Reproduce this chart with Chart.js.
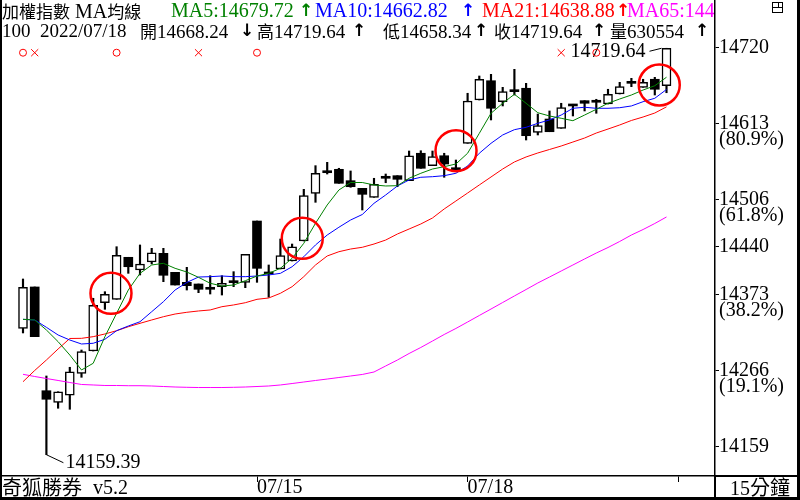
<!DOCTYPE html>
<html lang="zh-Hant">
  <head>
    <meta charset="utf-8" />
    <title>加權指數 MA均線</title>
    <style>
      * {
        margin: 0;
        padding: 0;
      }
      body {
        background: #fff;
      }
      .chartBox {
        position: relative;
        width: 800px;
        height: 500px;
        overflow: hidden;
        background: #fff;
        font-family: "Liberation Serif", "Noto Sans CJK TC", serif;
        color: #000;
      }
      .chartBox canvas {
        position: absolute;
        left: 0;
        top: 0;
      }
      .header {
        position: absolute;
        left: 0;
        top: 0;
        width: 714px;
        height: 44px;
        overflow: hidden;
      }
      .t {
        position: absolute;
        white-space: nowrap;
        font-size: 19px;
        line-height: 19px;
      }
      .r1 { top: 1px; font-size: 20px; }
      .r2 { top: 21px; }
      .k {
        font-family: "Noto Sans CJK TC", sans-serif;
        font-size: 17px;
      }
      .a {
        font-family: "DejaVu Sans", sans-serif;
        font-weight: bold;
        font-size: 17px;
      }
      .g { color: #008000; }
      .b { color: #0000ff; }
      .rd { color: #ff0000; }
      .m { color: #ff00ff; }
      .foot { top: 477px; font-size: 20px; line-height: 20px; }
      .foot .k { font-size: 20px; }
      .line {
        position: absolute;
        background: #000;
      }
      .icon {
        position: absolute;
        left: 772px;
        top: 2px;
        width: 9px;
        height: 9px;
        border: 1px solid #000;
      }
    </style>
  </head>
  <body>
    <div class="chartBox">
      <canvas id="myChart" width="800" height="500"></canvas>

      <div class="header">
        <span class="t r1" style="left: 2px"><span class="k">加權指數</span></span>
        <span class="t r1" style="left: 75px">MA<span class="k">均線</span></span>
        <span class="t r1 g" style="left: 171px">MA5:14679.72</span>
        <span class="t r1 g a" style="left: 299px">↑</span>
        <span class="t r1 b" style="left: 315px">MA10:14662.82</span>
        <span class="t r1 b a" style="left: 461px">↑</span>
        <span class="t r1 rd" style="left: 482px">MA21:14638.88</span>
        <span class="t r1 rd a" style="left: 616px">↑</span>
        <span class="t r1 m" style="left: 627px">MA65:144</span>

        <span class="t r2" style="left: 2px">100</span>
        <span class="t r2" style="left: 40px">2022/07/18</span>
        <span class="t r2" style="left: 140px"><span class="k">開</span>14668.24</span>
        <span class="t r2 a" style="left: 240px">↓</span>
        <span class="t r2" style="left: 257px"><span class="k">高</span>14719.64</span>
        <span class="t r2 a" style="left: 352px">↑</span>
        <span class="t r2" style="left: 383px"><span class="k">低</span>14658.34</span>
        <span class="t r2 a" style="left: 474px">↑</span>
        <span class="t r2" style="left: 494px"><span class="k">收</span>14719.64</span>
        <span class="t r2 a" style="left: 592px">↑</span>
        <span class="t r2" style="left: 610px"><span class="k">量</span>630554</span>
        <span class="t r2 a" style="left: 695px">↑</span>
      </div>

      <span class="t foot" style="left: 2px"><span class="k">奇狐勝券</span></span>
      <span class="t foot" style="left: 93px">v5.2</span>
      <span class="t foot" style="left: 730px">15<span class="k">分鐘</span></span>

      <!-- frame -->
      <div class="line" style="left: 0; top: 0; width: 2px; height: 500px"></div>
      <div class="line" style="left: 797px; top: 0; width: 3px; height: 500px"></div>
      <div class="line" style="left: 0; top: 497px; width: 800px; height: 3px"></div>
      <div class="line" style="left: 715px; top: 475px; width: 85px; height: 1.5px"></div>
      <div class="line" style="left: 714px; top: 476px; width: 1.5px; height: 24px"></div>
      <div class="icon"></div>
      <div class="line" style="left: 773px; top: 7px; width: 9px; height: 1px"></div>
      <div class="line" style="left: 778px; top: 3px; width: 1px; height: 4px"></div>
    </div>

    <script src="https://cdn.jsdelivr.net/npm/chart.js/dist/chart.umd.min.js"></script>
    <script>
      // 15 min candles, 2022/07/13 - 2022/07/18
      const opens = [
        14333.6, 14390.6, 14247.6, 14231.6, 14241.3, 14271.6, 14302.3, 14368.9, 14373.6, 14431.5,
        14414.0, 14425.0, 14437.0, 14410.8, 14397.0, 14394.7, 14390.1, 14391.0, 14397.9, 14397.0,
        14481.5, 14408.5, 14415.4, 14426.4, 14454.0, 14519.7, 14548.1, 14552.8, 14537.1, 14526.6,
        14514.2, 14540.4, 14544.0, 14537.1, 14574.9, 14557.8, 14571.5, 14555.0, 14588.6, 14648.3,
        14674.9, 14646.0, 14659.8, 14664.5, 14603.8, 14622.1, 14609.3, 14640.1, 14647.4, 14645.2,
        14642.8, 14656.6, 14671.3, 14665.8, 14676.9, 14668.24,
      ];
      const highs = [
        14401.6, 14390.6, 14267.9, 14246.2, 14279.9, 14303.7, 14375.0, 14384.1, 14446.1, 14431.5,
        14448.5, 14443.9, 14443.9, 14410.8, 14417.7, 14394.7, 14406.1, 14406.1, 14411.7, 14435.6,
        14481.5, 14420.9, 14456.7, 14449.8, 14525.2, 14557.8, 14562.4, 14554.2, 14550.5, 14526.6,
        14540.4, 14546.3, 14544.0, 14578.0, 14578.4, 14578.0, 14574.9, 14565.6, 14657.6, 14681.4,
        14683.7, 14665.8, 14690.6, 14671.3, 14629.0, 14633.2, 14643.8, 14642.4, 14647.4, 14649.3,
        14663.1, 14672.7, 14678.2, 14676.9, 14679.6, 14719.64,
      ];
      const lows = [
        14327.2, 14322.1, 14159.39, 14223.4, 14222.0, 14266.1, 14302.3, 14359.8, 14373.6, 14409.4,
        14407.1, 14422.3, 14397.9, 14393.3, 14386.4, 14382.7, 14380.9, 14379.5, 14391.0, 14389.6,
        14397.0, 14376.4, 14415.4, 14426.4, 14454.0, 14507.3, 14546.3, 14533.5, 14528.0, 14496.7,
        14514.2, 14534.3, 14528.8, 14537.1, 14554.2, 14557.8, 14541.8, 14551.8, 14588.6, 14648.3,
        14620.8, 14640.1, 14655.2, 14593.2, 14600.1, 14604.6, 14609.3, 14626.3, 14633.2, 14630.0,
        14642.8, 14656.6, 14666.7, 14665.8, 14655.2, 14658.34,
      ];
      const closes = [
        14390.1, 14322.1, 14235.8, 14246.2, 14273.8, 14301.4, 14365.3, 14380.5, 14434.3, 14418.5,
        14422.3, 14437.8, 14406.7, 14393.3, 14392.4, 14387.4, 14387.4, 14395.7, 14396.5, 14435.6,
        14416.3, 14409.2, 14433.7, 14446.1, 14516.4, 14547.3, 14548.8, 14533.5, 14528.8, 14518.3,
        14532.1, 14540.8, 14539.0, 14571.5, 14554.2, 14570.2, 14560.1, 14551.8, 14646.9, 14676.9,
        14636.9, 14659.8, 14660.5, 14599.1, 14612.9, 14604.6, 14637.7, 14640.5, 14643.8, 14645.6,
        14656.2, 14666.7, 14671.8, 14672.7, 14663.1, 14719.64,
      ];

      // moving averages
      const ma5 = [
        14346.0, 14345.1, 14331.3, 14315.2, 14296.8, 14276.2, 14285.4, 14322.1, 14354.3, 14386.4,
        14409.4, 14420.9, 14423.2, 14416.3, 14411.2, 14403.9, 14395.7, 14391.9, 14393.3, 14399.2,
        14405.7, 14409.4, 14416.3, 14430.1, 14450.8, 14478.4, 14503.6, 14524.3, 14534.6, 14534.6,
        14531.2, 14529.8, 14530.2, 14540.4, 14547.3, 14553.2, 14556.4, 14560.1, 14574.9, 14602.4,
        14630.0, 14643.8, 14656.2, 14643.8, 14630.8, 14626.3, 14623.1, 14619.8, 14627.6, 14635.5,
        14643.8, 14649.7, 14655.2, 14662.1, 14668.0, 14679.72,
      ];
      const ma10 = [
        14346.0, 14345.1, 14335.0, 14324.4, 14317.5, 14312.0, 14313.0, 14318.5, 14330.3, 14336.8,
        14342.7, 14356.5, 14370.3, 14386.4, 14396.8, 14404.3, 14404.8, 14405.7, 14404.8, 14404.8,
        14405.7, 14407.1, 14409.4, 14418.5, 14432.3, 14448.5, 14462.2, 14472.9, 14482.9, 14490.5,
        14505.9, 14517.4, 14529.8, 14538.1, 14541.8, 14542.6, 14544.0, 14547.3, 14557.3, 14574.9,
        14588.6, 14600.1, 14607.4, 14610.7, 14616.2, 14620.8, 14627.6, 14636.9, 14638.3, 14636.9,
        14636.9, 14637.7, 14640.1, 14646.0, 14650.7, 14662.82,
      ];
      const ma21 = [
        14260.0, 14275.5, 14289.9, 14305.1, 14319.6, 14319.8, 14322.1, 14325.8, 14330.3, 14335.8,
        14340.5, 14345.1, 14349.6, 14353.3, 14355.7, 14357.5, 14358.9, 14363.4, 14365.8, 14368.9,
        14373.6, 14375.4, 14381.9, 14391.0, 14404.8, 14420.9, 14433.3, 14439.2, 14442.9, 14445.3,
        14449.8, 14455.3, 14463.6, 14470.5, 14477.4, 14485.7, 14498.1, 14509.1, 14520.1, 14531.2,
        14542.2, 14553.2, 14562.9, 14569.8, 14575.3, 14580.1, 14584.9, 14590.4, 14595.9, 14602.8,
        14608.3, 14613.9, 14620.1, 14624.9, 14630.4, 14638.88,
      ];
      const ma65 = [
        14270.2, 14267.2, 14264.4, 14261.7, 14258.9, 14256.2, 14255.5, 14254.8, 14254.8, 14254.5,
        14254.5, 14254.1, 14253.4, 14252.7, 14252.3, 14252.0, 14252.0, 14252.0, 14252.3, 14252.7,
        14253.4, 14254.1, 14255.5, 14257.5, 14259.6, 14261.7, 14263.7, 14265.8, 14267.9, 14270.0,
        14273.4, 14281.7, 14289.9, 14298.9, 14307.2, 14316.1, 14325.1, 14333.4, 14342.3, 14351.3,
        14360.2, 14369.2, 14378.2, 14387.1, 14396.1, 14404.3, 14412.6, 14420.9, 14429.2, 14437.4,
        14445.0, 14453.3, 14462.2, 14469.8, 14478.1, 14487.1,
      ];

      // right axis levels (low .. high split)
      const yLevels = [14720, 14613, 14506, 14440, 14373, 14266, 14159];
      const yPercents = ["", "(80.9%)", "(61.8%)", "", "(38.2%)", "(19.1%)", ""];

      // day separators on the bar index axis
      const xTickPos = [20, 38, 56];
      const xTickLabels = ["07/15", "07/18", ""];

      // signal marks (bar index) and circled spots
      const buyIdx = [0, 8, 20, 49];
      const sellIdx = [1, 15, 46];
      const circled = [
        { x: 7.52, y: 14381.9 },
        { x: 23.87, y: 14457.7 },
        { x: 37.01, y: 14578.4 },
        { x: 54.38, y: 14669.0 },
      ];

      const MARK_Y = 14713.5;
      const idx = opens.map((_, i) => i);
      const isCross = (i) => Math.abs(closes[i] - opens[i]) < 1;
      const isUp = (i) => closes[i] > opens[i] && !isCross(i);

      const line = (label, values, color) => ({
        type: "line",
        label,
        data: idx.map((i) => ({ x: i, y: values[i] })),
        borderColor: color,
        borderWidth: 1,
        pointRadius: 0,
        tension: 0,
        order: 2,
      });

      // labels for lowest low and highest high
      const extremeLabels = {
        id: "extremeLabels",
        beforeDatasetsDraw(chart) {
          const { ctx, scales } = chart;
          const x = scales.x;
          const y = scales.y;
          const lo = lows.indexOf(Math.min(...lows));
          const hi = highs.indexOf(Math.max(...highs));
          ctx.save();
          ctx.strokeStyle = "#000";
          ctx.fillStyle = "#000";
          ctx.lineWidth = 1;
          ctx.font = "20px 'Liberation Serif', serif";
          ctx.textBaseline = "middle";

          let px = x.getPixelForValue(lo);
          let py = y.getPixelForValue(lows[lo]);
          ctx.beginPath();
          ctx.moveTo(px, py);
          ctx.lineTo(px + 17, py + 8);
          ctx.stroke();
          ctx.textAlign = "left";
          ctx.fillText(lows[lo].toFixed(2), px + 19, py + 8);

          px = x.getPixelForValue(hi);
          py = y.getPixelForValue(highs[hi]);
          ctx.beginPath();
          ctx.moveTo(px - 5, py);
          ctx.lineTo(px - 17, py + 3);
          ctx.stroke();
          ctx.textAlign = "right";
          ctx.fillText(highs[hi].toFixed(2), px - 21, py + 3);
          ctx.restore();
        },
      };

      const config = {
        type: "bar",
        data: {
          datasets: [
            {
              type: "line",
              label: "circled",
              data: circled,
              showLine: false,
              pointRadius: 20.5,
              pointBorderWidth: 2.5,
              pointBorderColor: "#ff0000",
              pointBackgroundColor: "rgba(0,0,0,0)",
              order: 0,
            },
            {
              type: "line",
              label: "buy",
              data: buyIdx.map((i) => ({ x: i, y: MARK_Y })),
              showLine: false,
              pointStyle: "circle",
              pointRadius: 3.5,
              pointBorderWidth: 1,
              pointBorderColor: "#ff0000",
              pointBackgroundColor: "rgba(0,0,0,0)",
              order: 1,
            },
            {
              type: "line",
              label: "sell",
              data: sellIdx.map((i) => ({ x: i, y: MARK_Y })),
              showLine: false,
              pointStyle: "crossRot",
              pointRadius: 5,
              pointBorderWidth: 1,
              pointBorderColor: "#ff0000",
              order: 1,
            },
            line("MA5", ma5, "#008000"),
            line("MA10", ma10, "#0000ff"),
            line("MA21", ma21, "#ff0000"),
            line("MA65", ma65, "#ff00ff"),
            {
              label: "body",
              data: idx.map((i) => ({ x: i, y: [opens[i], closes[i]] })),
              backgroundColor: idx.map((i) => (isUp(i) ? "#fff" : "#000")),
              borderColor: "#000",
              borderWidth: idx.map((i) => (isUp(i) ? 1.5 : 0)),
              borderSkipped: false,
              barThickness: 9,
              minBarLength: 2,
              grouped: false,
              order: 3,
            },
            {
              label: "wick",
              data: idx.map((i) => ({ x: i, y: [lows[i], highs[i]] })),
              backgroundColor: "#000",
              barThickness: 1.5,
              grouped: false,
              order: 4,
            },
          ],
        },
        options: {
          responsive: false,
          animation: false,
          devicePixelRatio: 1,
          layout: {
            autoPadding: false,
            padding: { left: 2, right: 0, top: 0, bottom: 0 },
          },
          plugins: {
            legend: { display: false },
            tooltip: { enabled: false },
          },
          scales: {
            x: {
              type: "linear",
              position: "bottom",
              min: -1.7949,
              max: 59.1453,
              offset: false,
              afterBuildTicks: (s) => {
                s.ticks = xTickPos.map((v) => ({ value: v }));
              },
              afterFit: (s) => {
                s.height = 24;
                s.paddingLeft = 0;
                s.paddingRight = 0;
              },
              grid: {
                drawOnChartArea: false,
                drawTicks: true,
                tickLength: 6,
                color: "#000",
                lineWidth: 1,
                offset: false,
              },
              border: { display: true, color: "#000", width: 1.5 },
              ticks: {
                autoSkip: false,
                maxRotation: 0,
                align: "start",
                padding: -4.5,
                color: "#000",
                font: { family: "'Liberation Serif', serif", size: 20, lineHeight: 1 },
                callback: (v) => {
                  const k = xTickPos.indexOf(v);
                  return k >= 0 ? xTickLabels[k] : "";
                },
              },
            },
            y: {
              type: "linear",
              display: false,
              min: 14130.04,
              max: 14786.16,
            },
            yLab: {
              type: "linear",
              position: "right",
              min: 14117.83,
              max: 14786.75,
              afterBuildTicks: (s) => {
                s.ticks = yLevels.map((v) => ({ value: v }));
              },
              afterFit: (s) => {
                s.width = 85;
                s.paddingTop = 0;
                s.paddingBottom = 0;
              },
              grid: {
                drawOnChartArea: false,
                tickLength: 4,
                color: "#000",
                lineWidth: 1,
              },
              border: { display: true, color: "#000", width: 1.5 },
              ticks: {
                autoSkip: false,
                padding: 0,
                color: "#000",
                font: { family: "'Liberation Serif', serif", size: 20, lineHeight: 0.8 },
                callback: (v) => {
                  const k = yLevels.indexOf(v);
                  const p = yPercents[k];
                  return p ? ["", String(v), p] : String(v);
                },
              },
            },
          },
        },
        plugins: [extremeLabels],
      };

      const myChart = new Chart(document.getElementById("myChart"), config);
    </script>
  </body>
</html>
